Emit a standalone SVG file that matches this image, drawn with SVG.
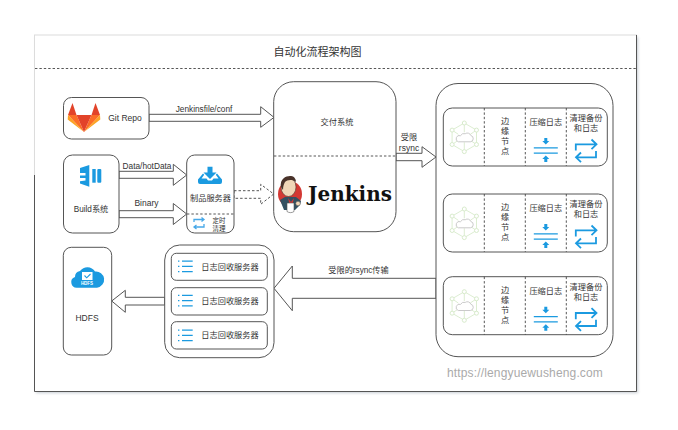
<svg xmlns="http://www.w3.org/2000/svg" width="678" height="430" viewBox="0 0 678 430">
<style>
text{font-family:"Liberation Sans","Noto Sans CJK SC",sans-serif;font-size:8.2px;fill:#333;text-anchor:middle;dominant-baseline:central}
.box{fill:#fff;stroke:#555;stroke-width:1}
.dash{fill:none;stroke:#444;stroke-width:.9;stroke-dasharray:2.4 2}
.arr{fill:#fff;stroke:#555;stroke-width:1;stroke-linejoin:miter}
.blue{fill:#1b9ae0}
.bl{fill:none;stroke:#1b9ae0;stroke-width:1.8}
.gr{fill:none;stroke:#d8ebcc;stroke-width:.9}
</style>
<defs>
<filter id="soft" x="-3%" y="-3%" width="106%" height="106%"><feGaussianBlur stdDeviation="1.500"/></filter>
<g id="edge-ic">
<path class="gr" d="M0-14.300 12.200-7.200V7.200L0 14.300-12.200 7.200V-7.200ZM0-14.300V-5M0 5V14.300M-12.200-7.200-6-3M12.200-7.200 6-3M-12.200 7.200-6 3M12.200 7.200 6 3"/>
<g fill="#fff" stroke="#d8ebcc"><circle cy="-14.300" r="2"/><circle cy="14.300" r="2"/><circle cx="-12.200" cy="-7.200" r="2"/><circle cx="12.200" cy="-7.200" r="2"/><circle cx="-12.200" cy="7.200" r="2"/><circle cx="12.200" cy="7.200" r="2"/></g>
<path d="M-6 4.500H6A3.200 3.200 0 0 0 6.500-1.800 3.600 3.600 0 0 0 1-3.600 4.200 4.200 0 0 0-3.800-1.600 3.200 3.200 0 0 0-6 4.500Z" fill="#fff" stroke="#c4c4c4" stroke-width=".9"/>
</g>
<g id="compress-ic">
<path class="blue" d="M-1.500-11.500H1.500V-8.500H3.500L0-5-3.500-8.500H-1.500ZM-12-2.200H12V-.9H-12ZM-12 3H12V4.300H-12ZM-1.500 12.500H1.500V9.500H3.500L0 6-3.500 9.500H-1.500Z"/>
</g>
<g id="swap-ic">
<path class="bl" d="M.8 11V4.800H21M16.500 0 21.500 4.800 16.500 9.600M21 11.500V17.800H1M6 13 1 17.800 6 22.600"/>
</g>
<g id="list-ic">
<path class="blue" d="M0 0H1.400V1.200H0ZM4 0H14.700V1.200H4ZM0 5.300H1.400V6.500H0ZM4 5.300H14.700V6.500H4ZM0 10.500H1.400V11.700H0ZM4 10.500H14.700V11.700H4Z"/>
</g>
</defs>

<g id="frame">
<rect x="36" y="37" width="602" height="356" fill="#9aa4b0" opacity=".55" filter="url(#soft)"/>
<rect x="34.500" y="35" width="602" height="356.500" fill="#fff" stroke="#dcdcdc"/>
<path d="M34.500 175V391.500H636.500V35" fill="none" stroke="#555" stroke-width="1"/>
<path class="dash" d="M35 68.500H636"/>
<text x="317.500" y="52" style="font-size:11px">自动化流程架构图</text>
</g>

<g id="connectors">
<path class="arr" d="M149 114.300H260.700V106.700L274 117.400 260.700 127.300V121.300H149Z"/>
<path class="arr" d="M119 171.300H173.300V164.300L186.700 175 173.300 185.300V178.300H119Z"/>
<path class="arr" d="M119 210.700H173.300V203.500L186.700 214 173.300 224.500V217.700H119Z"/>
<path class="arr" style="stroke-dasharray:2.500 2" d="M234 190.700H260.700V184.300L273.700 194 260.700 204.300V198.300H234Z"/>
<path class="arr" d="M396 153.300H422V146.700L436 157 422 167.300V160.700H396Z"/>
<path class="arr" d="M436 278.300H292.300V266L274 288.300 292.300 310.700V298.300H436Z"/>
<path class="arr" d="M164.700 297.300H125.300V290.300L111.700 301 125.300 312.300V305H164.700Z"/>
<text x="204" y="108.500" style="font-size:8.300px">Jenkinsfile/conf</text>
<text x="147" y="166" style="font-size:8.300px">Data/hotData</text>
<text x="146.500" y="203" style="font-size:8.500px">Binary</text>
<text x="409" y="137">受限</text>
<text x="409" y="148" style="font-size:8.500px">rsync</text>
<text x="358.500" y="270">受限的rsync传输</text>
</g>

<g id="git-repo">
<rect class="box" x="63.500" y="97.500" width="85.500" height="41.500" rx="8"/>
<path fill="#e24329" d="M72.500 103 76.500 115H68Z"/>
<path fill="#e24329" d="M95.500 103 100 115H91.500Z"/>
<path fill="#fc6d26" d="M68 115H76.500L84 132ZM100 115H91.500L84 132Z"/>
<path fill="#fca326" d="M68 115 67.700 119.500 84 132ZM100 115 100.300 119.500 84 132Z"/>
<path fill="#e24329" d="M76.500 115H91.500L84 132Z"/>
<text x="125" y="118" style="font-size:8.500px">Git Repo</text>
</g>

<g id="build">
<rect class="box" x="63.500" y="155" width="55.500" height="78" rx="9"/>
<path class="blue" d="M89.300 165V186.700L80 183.500V181.300L85.500 180.500V178H80V175.500H85.500V173H80V168Z"/>
<rect class="blue" x="92.300" y="169" width="3.400" height="13.700"/>
<rect class="blue" x="97.300" y="169" width="4" height="13.700" rx="1"/>
<text x="91" y="209">Build系统</text>
</g>

<g id="artifact">
<rect class="box" x="186.700" y="155" width="47.300" height="78" rx="8"/>
<path class="blue" d="M207.500 166.700H212.500V172.500H216.500L210 179 203.500 172.500H207.500Z"/>
<path class="blue" d="M203 173.500 198 179.500V182A2 2 0 0 0 200 184H220A2 2 0 0 0 222 182V179.500L217 173.500 215.800 174.700 218.500 178.500H213.500L212 180.500H208L206.500 178.500H201.500L204.200 174.700Z"/>
<text x="210.500" y="198.500">制品服务器</text>
<path class="dash" d="M187 214H234"/>
<path fill="none" stroke="#47a8e8" stroke-width="1.300" d="M194 222V219.500H203.500M201.500 217.500 204 219.500 201.500 221.500M204 224V227H194.500M196.500 225 194 227 196.500 229"/>
<text x="219" y="220" style="font-size:6.500px">定时</text>
<text x="219" y="228" style="font-size:6.500px">清理</text>
</g>

<g id="delivery">
<rect class="box" x="273.700" y="81.700" width="122.300" height="150" rx="20"/>
<path class="dash" d="M274 156H396"/>
<text x="337" y="122">交付系统</text>
<ellipse cx="290" cy="194" rx="12" ry="13" fill="#d33833"/>
<path fill="#335061" d="M280 200 285 197 296 197 301 201 300 205 295 210H284Z"/>
<path fill="#d33833" d="M288 198 291 202 294 198 292.500 204 289.500 204Z"/>
<ellipse cx="288.500" cy="187" rx="7.500" ry="9.500" fill="#f0d6b7" stroke="#49322a" stroke-width=".6"/>
<path fill="#49322a" d="M281 187C279.500 178 287 175.500 291 176 295 176.500 296 180 296 182 292 179 287 180 285 182 284 184 283 186 283 190Z"/>
<path fill="#fff" stroke="#555" stroke-width=".6" d="M287 203H294V211.500C292 213 289 213 287 211.500Z"/>
<circle cx="298" cy="203.500" r="2.300" fill="#f0d6b7" stroke="#555" stroke-width=".5"/>
<text x="350" y="194" style="font-family:'DejaVu Serif',serif;font-weight:bold;font-size:20px;fill:#111" textLength="84" lengthAdjust="spacingAndGlyphs">Jenkins</text>
</g>

<g id="edge-cluster">
<rect class="box" x="436" y="83.500" width="177" height="273.200" rx="22"/>
</g>

<g id="edge-row-1">
<rect class="box" x="443.300" y="108" width="164" height="58" rx="9"/>
<path class="dash" d="M484.300 108V166M525.300 108V166M566.300 108V166"/>
<use href="#edge-ic" x="464.300" y="137.300"/>
<text x="505" y="121.700">边</text><text x="505" y="131.700">缘</text><text x="505" y="141.700">节</text><text x="505" y="151.700">点</text>
<text x="545.800" y="122.700">压缩日志</text>
<use href="#compress-ic" x="545.800" y="149.500"/>
<text x="586" y="118.300">清理备份</text><text x="586" y="128.300">和日志</text>
<use href="#swap-ic" x="575" y="139.500"/>
</g>

<g id="edge-row-2">
<rect class="box" x="443.300" y="194" width="164" height="58" rx="9"/>
<path class="dash" d="M484.300 194V252M525.300 194V252M566.300 194V252"/>
<use href="#edge-ic" x="464.300" y="223.300"/>
<text x="505" y="207.700">边</text><text x="505" y="217.700">缘</text><text x="505" y="227.700">节</text><text x="505" y="237.700">点</text>
<text x="545.800" y="208.700">压缩日志</text>
<use href="#compress-ic" x="545.800" y="235.500"/>
<text x="586" y="204.300">清理备份</text><text x="586" y="214.300">和日志</text>
<use href="#swap-ic" x="575" y="225.500"/>
</g>

<g id="edge-row-3">
<rect class="box" x="443.300" y="276.700" width="164" height="58" rx="9"/>
<path class="dash" d="M484.300 276.700V334.700M525.300 276.700V334.700M566.300 276.700V334.700"/>
<use href="#edge-ic" x="464.300" y="306"/>
<text x="505" y="290.400">边</text><text x="505" y="300.400">缘</text><text x="505" y="310.400">节</text><text x="505" y="320.400">点</text>
<text x="545.800" y="291.400">压缩日志</text>
<use href="#compress-ic" x="545.800" y="318.200"/>
<text x="586" y="287">清理备份</text><text x="586" y="297">和日志</text>
<use href="#swap-ic" x="575" y="308.200"/>
</g>

<g id="hdfs">
<rect class="box" x="63.300" y="247.300" width="48.400" height="107.700" rx="8"/>
<path class="blue" d="M77 287.700A5.500 5.500 0 0 1 75 277 6 6 0 0 1 80 271 9 9 0 0 1 95 271.500 7.500 7.500 0 0 1 97 287.700Z"/>
<rect x="82" y="272" width="10.500" height="8" fill="#fff"/>
<path d="M84.500 275.500 86.700 277.800 90.500 274" fill="none" stroke="#1b9ae0" stroke-width="1.100"/>
<text x="87" y="283.500" style="font-size:4.500px;font-weight:bold;fill:#fff">HDFS</text>
<text x="87" y="318" style="font-size:8.500px">HDFS</text>
</g>

<g id="log-group">
<rect class="box" x="164.700" y="245" width="109.300" height="112.700" rx="15"/>
</g>
<g id="log-1">
<rect class="box" x="171.300" y="253.300" width="96" height="27" rx="5"/>
<use href="#list-ic" x="178" y="260.500"/>
<text x="230" y="267">日志回收服务器</text>
</g>
<g id="log-2">
<rect class="box" x="171.300" y="287.700" width="96" height="27.300" rx="5"/>
<use href="#list-ic" x="178" y="294.700"/>
<text x="230" y="301">日志回收服务器</text>
</g>
<g id="log-3">
<rect class="box" x="171.300" y="321.700" width="96" height="27.300" rx="5"/>
<use href="#list-ic" x="178" y="329.500"/>
<text x="230" y="335.500">日志回收服务器</text>
</g>

<text x="525" y="372.700" style="font-size:12px;fill:#aaa;letter-spacing:.15px">https://lengyuewusheng.com</text>
</svg>
